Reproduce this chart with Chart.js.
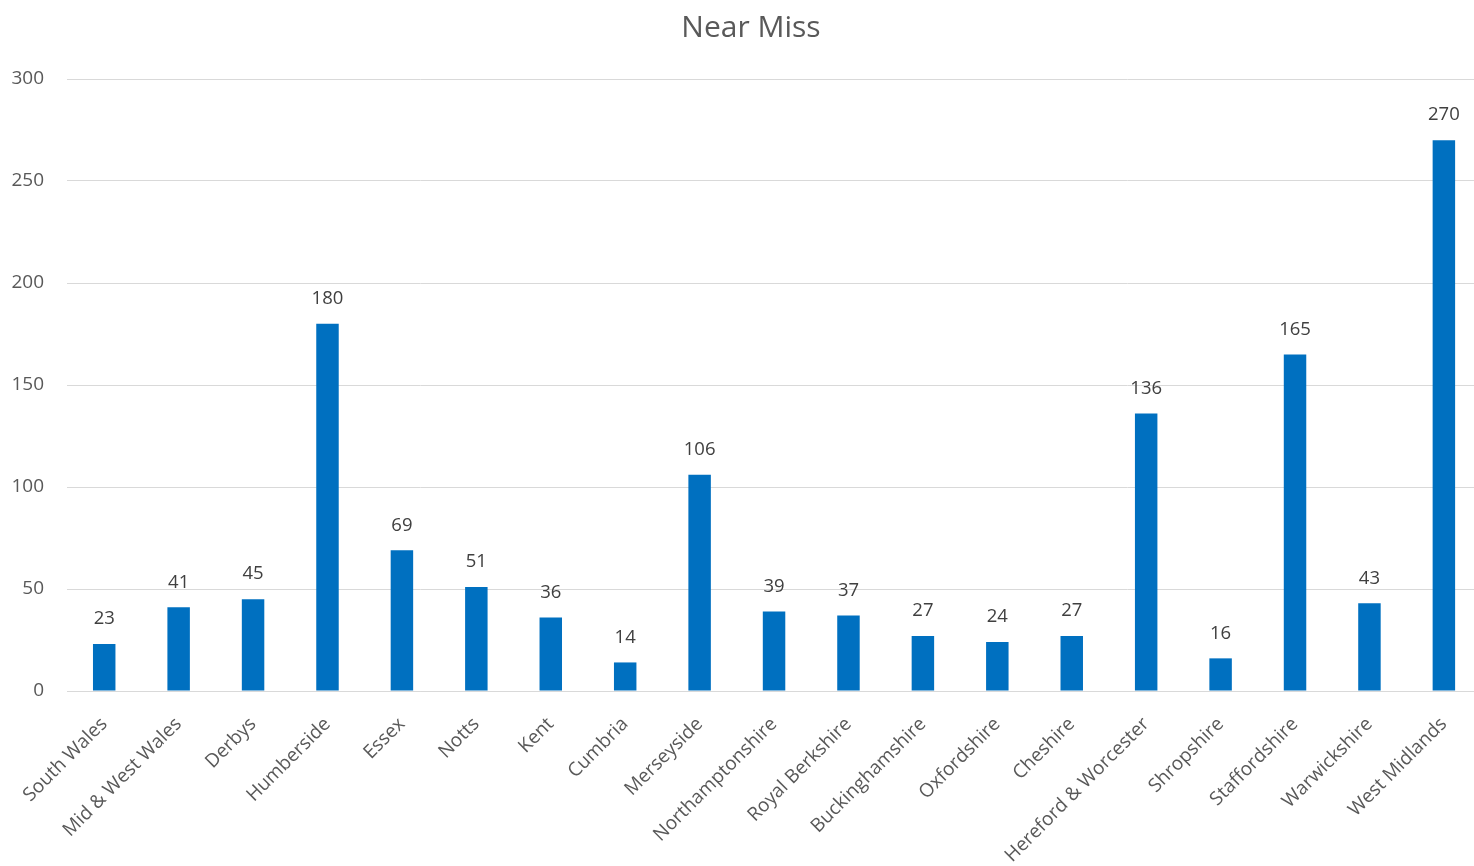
<!DOCTYPE html>
<html>
<head>
<meta charset="utf-8">
<script src="https://cdn.jsdelivr.net/npm/chart.js@4.4.1/dist/chart.umd.min.js"></script>
<style>
  html, body { margin: 0; padding: 0; background: #ffffff; overflow: hidden; }
  #wrap { width: 1482px; height: 866px; }
</style>
</head>
<body>
<div id="wrap"><canvas id="c" width="1482" height="866"></canvas></div>
<script>
// Near miss counts by area
const categories = ["South Wales", "Mid & West Wales", "Derbys", "Humberside", "Essex", "Notts", "Kent", "Cumbria", "Merseyside", "Northamptonshire", "Royal Berkshire", "Buckinghamshire", "Oxfordshire", "Cheshire", "Hereford & Worcester", "Shropshire", "Staffordshire", "Warwickshire", "West Midlands"];
const nearMiss = [23, 41, 45, 180, 69, 51, 36, 14, 106, 39, 37, 27, 24, 27, 136, 16, 165, 43, 270];
const yTicks = [0, 50, 100, 150, 200, 250, 300];
const chartTitle = 'Near Miss';

const FONT = "'Open Sans', 'Segoe UI', sans-serif";
const TEXT = '#595959';

// Title and the value above each bar
const annotations = {
  id: 'annotations',
  afterDatasetsDraw(chart) {
    const ctx = chart.ctx;
    const meta = chart.getDatasetMeta(0);
    ctx.save();
    ctx.fillStyle = TEXT;
    ctx.textAlign = 'center';
    ctx.textBaseline = 'middle';
    ctx.font = '30px ' + FONT;
    ctx.fillText(chartTitle, 751, 28);

    ctx.font = '18.5px ' + FONT;
    ctx.fillStyle = '#404040';
    meta.data.forEach((bar, i) => {
      ctx.fillText(String(nearMiss[i]), bar.x, bar.y - 25);
    });
    ctx.restore();
  }
};

new Chart(document.getElementById('c'), {
  type: 'bar',
  data: {
    labels: categories,
    datasets: [{
      label: chartTitle,
      data: nearMiss,
      backgroundColor: '#0070C0',
      borderWidth: 0,
      barPercentage: 1,
      categoryPercentage: 0.302
    }]
  },
  options: {
    responsive: false,
    animation: false,
    layout: { padding: { left: 0, right: 0, top: 79, bottom: 0 } },
    plugins: {
      legend: { display: false },
      tooltip: { enabled: false },
      title: { display: false }
    },
    scales: {
      y: {
        min: 0,
        max: 300,
        afterFit(scale) { scale.width = 67; },
        afterBuildTicks(scale) { scale.ticks = yTicks.map(v => ({ value: v })); },
        border: { display: false },
        grid: { color: '#d9d9d9', lineWidth: 1, drawTicks: false },
        ticks: { color: TEXT, padding: 23, font: { family: FONT, size: 19 } }
      },
      x: {
        afterFit(scale) { scale.height = 175; },
        border: { display: true, color: '#d9d9d9', width: 1 },
        grid: { display: false, drawTicks: false },
        ticks: {
          color: TEXT,
          autoSkip: false,
          minRotation: 45,
          maxRotation: 45,
          padding: 22,
          font: { family: FONT, size: 19 }
        }
      }
    }
  },
  plugins: [annotations]
});
</script>
</body>
</html>
